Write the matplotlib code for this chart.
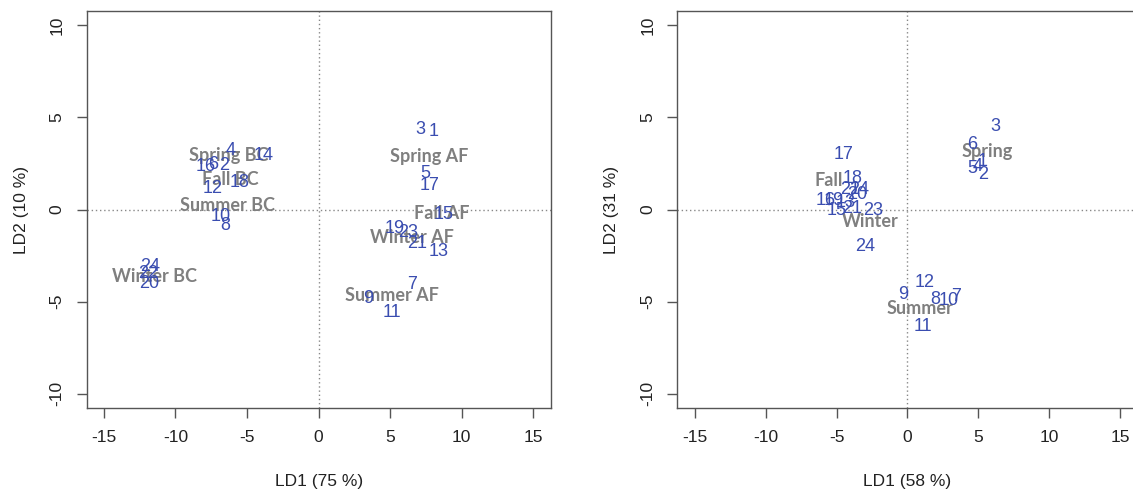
import numpy as np
import matplotlib
matplotlib.use("Agg")
import matplotlib.pyplot as plt

# sample numbers 1..24
ids = list(range(1, 25))

# left panel: LD scores (BC = even samples, AF = odd samples)
left_x = [8.01, -6.59, 7.08, -6.11, 7.43, -7.34, 6.50, -6.52, 3.48, -6.87, 5.11, -7.38,
          8.36, -3.85, 8.71, -7.85, 7.73, -5.48, 5.34, -11.81, 6.90, -11.90, 6.27, -11.76]
left_y = [4.23, 2.38, 4.32, 3.23, 1.96, 2.45, -4.06, -0.85, -4.84, -0.36, -5.62, 1.15,
          -2.30, 2.92, -0.27, 2.32, 1.33, 1.47, -1.03, -4.02, -1.85, -3.50, -1.25, -3.12]
left_groups = ["Spring BC", "Summer BC", "Fall BC", "Winter BC",
               "Spring AF", "Summer AF", "Fall AF", "Winter AF"]
left_gx = [-6.29, -6.36, -6.13, -11.45, 7.73, 5.10, 8.60, 6.50]
left_gy = [2.92, 0.20, 1.65, -3.63, 2.87, -4.66, -0.21, -1.54]

# right panel: LD scores by season
right_x = [5.32, 5.36, 6.20, 4.94, 4.54, 4.54, 3.44, 1.96, -0.27, 2.90, 1.09, 1.20,
           -4.37, -3.37, -4.96, -5.78, -4.49, -3.90, -5.19, -3.55, -3.90, -4.02, -2.43, -2.97]
right_y = [2.60, 1.88, 4.52, 2.33, 2.24, 3.55, -4.75, -4.89, -4.62, -4.93, -6.38, -3.95,
           0.37, 1.10, -0.07, 0.48, 2.96, 1.69, 0.48, 0.79, 0.06, 1.06, -0.03, -1.99]
right_groups = ["Spring", "Summer", "Fall", "Winter"]
right_gx = [5.60, 0.90, -5.55, -2.61]
right_gy = [3.14, -5.38, 1.60, -0.63]

xlab = ["LD1 (75 %)", "LD1 (58 %)"]
ylab = ["LD2 (10 %)", "LD2 (31 %)"]

plt.rcParams['font.family'] = ['Liberation Sans', 'DejaVu Sans']
plt.rcParams['axes.unicode_minus'] = False  # R prints a plain hyphen

W, H = 1133, 492
fig = plt.figure(figsize=(W / 100, H / 100), dpi=100)

blue = '#3a4db0'
grey = '#7f7f7f'
edge = '#555555'


def panel(rect, xs, ys, gnames, gx, gy, xl, yl):
    ax = fig.add_axes(rect)
    ax.set_xlim(-16.2, 16.2)
    ax.set_ylim(-10.78, 10.78)
    ax.axhline(0, color='#888888', linestyle=(0, (1, 2)), linewidth=1)
    ax.axvline(0, color='#888888', linestyle=(0, (1, 2)), linewidth=1)
    # group centroids first, sample numbers on top
    for name, x, y in zip(gnames, gx, gy):
        ax.text(x, y, name, color=grey, fontsize=13, fontweight='bold',
                family=['Lato', 'DejaVu Sans'], ha='center', va='center', zorder=3)
    for i, x, y in zip(ids, xs, ys):
        ax.text(x, y, str(i), color=blue, fontsize=13, family=['Liberation Sans'],
                ha='center', va='center', zorder=4)
    ax.set_xticks([-15, -10, -5, 0, 5, 10, 15])
    ax.set_yticks([-10, -5, 0, 5, 10])
    ax.tick_params(direction='out', length=7, width=1, colors=edge, labelcolor='#222222',
                   labelsize=12.5, pad=9)
    for lbl in ax.get_xticklabels() + ax.get_yticklabels():
        lbl.set_family(['Liberation Sans'])
    for lbl in ax.get_yticklabels():
        lbl.set_rotation(90)
        lbl.set_va('center')
    for s in ax.spines.values():
        s.set_color(edge)
        s.set_linewidth(1)
    ax.set_xlabel(xl, fontsize=12.5, labelpad=21, color='#222222', family=['Liberation Sans'])
    ax.set_ylabel(yl, fontsize=12.5, labelpad=15, color='#222222', family=['Liberation Sans'])
    return ax


# axes rects in figure fractions (box bottom 408px, top 11px)
bot = (H - 408) / H
hgt = (408 - 11) / H
panel([86.6 / W, bot, 464 / W, hgt], left_x, left_y, left_groups, left_gx, left_gy, xlab[0], ylab[0])
panel([677.5 / W, bot, 460 / W, hgt], right_x, right_y, right_groups, right_gx, right_gy, xlab[1], ylab[1])

plt.savefig("out.png", dpi=100)
